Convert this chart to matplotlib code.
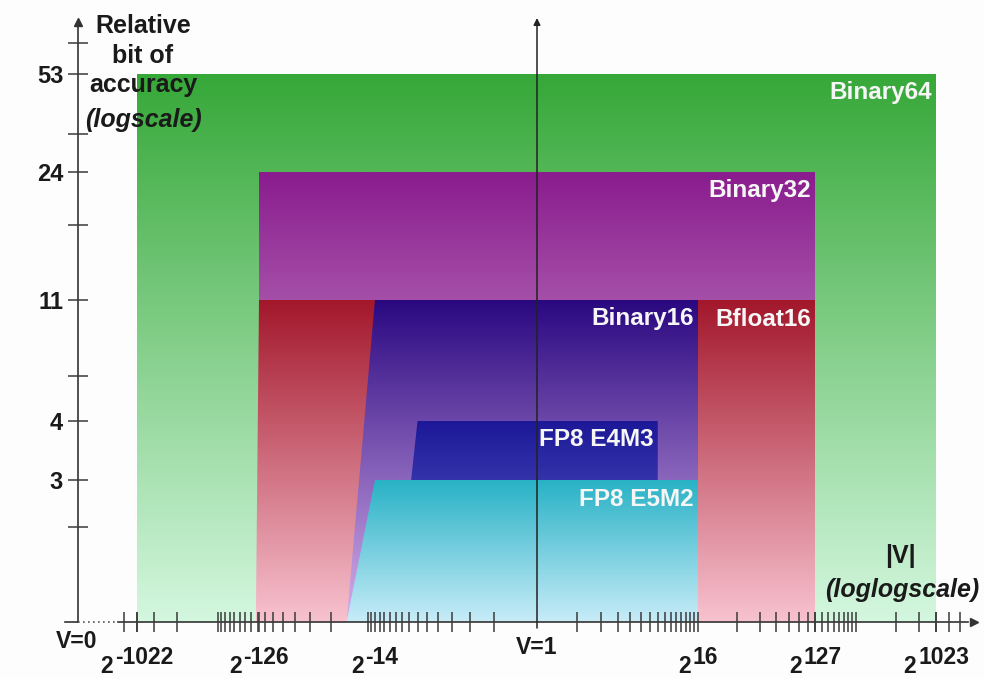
import numpy as np
import matplotlib
matplotlib.use("Agg")
import matplotlib.pyplot as plt
from matplotlib import transforms
from matplotlib.colors import LinearSegmentedColormap
from matplotlib.font_manager import FontProperties
from matplotlib.patches import Polygon
from matplotlib.textpath import TextPath

# --- values ----------------------------------------------------------------
FORMATS = ["Binary64", "Binary32", "Bfloat16", "Binary16", "FP8 E4M3", "FP8 E5M2"]
BITS = [53, 24, 11, 11, 4, 3]
# exponent (power of two) of the left edge at the top (normal) and at the
# bottom (subnormal end of the slope), and of the right edge
EXP_LEFT_TOP = [-1022, -126, -126, -14, -7, -14]
EXP_LEFT_BOTTOM = [-1022, -126, -133, -24, -10, -24]
EXP_RIGHT = [1023, 127, 127, 16, 8, 16]
TOP_COLORS = ["#36a838", "#8a1c8e", "#a3172b", "#2a0880", "#1c1898", "#28b2c6"]
BOTTOM_COLORS = ["#d4f7df", "#e8d0ea", "#f8c2cf", "#d8b0ec", "#6c74d4", "#c8ecf8"]

BIT_TICKS = [2, 3, 4, 8, 11, 16, 24, 32, 53, 64]
BIT_LABELS = ["", "3", "4", "", "11", "", "24", "", "53", ""]
BIT_TICK_COLORS = ["#333333", "#8ee8e0", "#4848a0", "#333333", "#e88a98",
                   "#333333", "#888888", "#333333", "#a8dcb4", "#333333"]

EXP_TICKS = [-1022, -126, -14, 16, 127, 1023]
EXP_TEXT = ["-1022", "-126", "-14", "16", "127", "1023"]
EXP_TICK_COLORS = ["#2e9e3e", "#6a4aa8", "#333333", "#333333", "#6a4aa8", "#333333"]
EXP_MINOR_POS = list(range(2, 17)) + list(range(32, 257, 16)) + [512, 768, 1024, 1280, 1536]
EXP_MINOR_NEG = [-e for e in EXP_MINOR_POS if e <= 1280]

Y_TITLE = ["Relative", "bit of", "accuracy", "(logscale)"]

# --- schematic scales: where labelled values sit on the 984 x 679 canvas ---
W, H, DPI = 984, 679, 100
X_ANCHOR_EXP = np.array([-1022, -126, -14, 0, 16, 127, 1023], float)
X_ANCHOR_PX = np.array([137, 259, 375, 537, 698, 815, 936], float)
Y_ANCHOR_BITS = np.array([1, 2, 3, 4, 8, 11, 16, 24, 32, 53, 64], float)
Y_ANCHOR_PX = np.array([622, 527, 480, 421, 376, 300, 225, 172, 134, 74, 43], float)


def _lin(x, xp, fp):
    x = np.asarray(x, float)
    y = np.interp(x, xp, fp)
    lo = fp[0] + (x - xp[0]) * (fp[1] - fp[0]) / (xp[1] - xp[0])
    hi = fp[-1] + (x - xp[-1]) * (fp[-1] - fp[-2]) / (xp[-1] - xp[-2])
    return np.where(x < xp[0], lo, np.where(x > xp[-1], hi, y))


def _slog(e):
    e = np.asarray(e, float)
    return np.sign(e) * np.log2(np.maximum(np.abs(e), 1.0))


X_LOG = _slog(X_ANCHOR_EXP)
Y_LOG = np.log2(Y_ANCHOR_BITS)
Y_H = H - Y_ANCHOR_PX


def x_fwd(e):
    return _lin(_slog(e), X_LOG, X_ANCHOR_PX)


def x_inv(p):
    l = _lin(p, X_ANCHOR_PX, X_LOG)
    return np.sign(l) * 2.0 ** np.abs(l)


def y_fwd(b):
    return _lin(np.log2(np.maximum(np.asarray(b, float), 1e-9)), Y_LOG, Y_H)


def y_inv(h):
    return 2.0 ** _lin(h, Y_H, Y_LOG)


plt.rcParams["font.family"] = ["Liberation Sans", "DejaVu Sans"]
plt.rcParams["font.weight"] = "bold"

fig = plt.figure(figsize=(W / DPI, H / DPI), dpi=DPI)
fig.patch.set_facecolor("#fdfdfd")
ax = fig.add_axes([0, 0, 1, 1])
ax.set_facecolor("#fdfdfd")
ax.set_xscale("function", functions=(x_fwd, x_inv))
ax.set_yscale("function", functions=(y_fwd, y_inv))
ax.set_xlim(float(x_inv(0)), float(x_inv(W)))
ax.set_ylim(float(y_inv(0)), float(y_inv(H)))
ax.set_autoscale_on(False)

# --- gradient filled format areas --------------------------------------------
to_axes = ax.transData + ax.transAxes.inverted()
for i, name in enumerate(FORMATS):
    verts = np.array([
        [EXP_LEFT_BOTTOM[i], 1],
        [EXP_LEFT_TOP[i], BITS[i]],
        [EXP_RIGHT[i], BITS[i]],
        [EXP_RIGHT[i], 1],
    ], float)
    poly = Polygon(verts, closed=True, transform=ax.transData)
    pts = to_axes.transform(verts)
    (x0, y0), (x1, y1) = pts.min(axis=0), pts.max(axis=0)
    cmap = LinearSegmentedColormap.from_list(name, [BOTTOM_COLORS[i], TOP_COLORS[i]])
    grad = np.linspace(1, 0, 256)[:, None]
    im = ax.imshow(grad, cmap=cmap, vmin=0, vmax=1, extent=(x0, x1, y0, y1),
                   transform=ax.transAxes, aspect="auto",
                   interpolation="bilinear", zorder=0.2 + 0.1 * i)
    im.set_clip_path(poly)
    ax.annotate(name, xy=(EXP_RIGHT[i], BITS[i]), xytext=(-4, -19),
                textcoords="offset pixels", ha="right", va="center",
                fontsize=17.5, color="#f6f6f6", zorder=2)

# --- axes ----------------------------------------------------------------------
for side in ("top", "right"):
    ax.spines[side].set_visible(False)
ax.spines["left"].set_position(("axes", 78 / W))
ax.spines["bottom"].set_position(("data", 1))
ax.spines["left"].set_bounds(1, float(y_inv(H - 26)))
ax.spines["bottom"].set_bounds(float(x_inv(118)), float(x_inv(968)))
for side in ("left", "bottom"):
    ax.spines[side].set_color("#333333")
    ax.spines[side].set_linewidth(1.2)
ax.set_axisbelow(False)

ax.set_yticks(BIT_TICKS)
ax.set_yticklabels(BIT_LABELS)
ax.yaxis.set_minor_locator(plt.NullLocator())
ax.set_xticks(EXP_TICKS)
ax.set_xticklabels([""] * len(EXP_TICKS))
ax.set_xticks(EXP_MINOR_NEG + EXP_MINOR_POS, minor=True)
ax.xaxis.set_minor_formatter(plt.NullFormatter())
ax.tick_params(which="both", direction="inout", length=14.4, width=1.1,
               color="#3a3a3a")
ax.tick_params(axis="y", labelsize=17, pad=3.5, labelcolor="#1a1a1a")
for tick, c in zip(ax.yaxis.get_major_ticks(), BIT_TICK_COLORS):
    tick.tick1line.set_color(c)
for tick, c in zip(ax.xaxis.get_major_ticks(), EXP_TICK_COLORS):
    tick.tick1line.set_color(c)

# axis break between V=0 and the first exponent, arrow heads
blend = transforms.blended_transform_factory(ax.transAxes, ax.transData)
ax.plot([65 / W, 78 / W], [1, 1], color="#333333", lw=1.2, transform=blend,
        clip_on=False, zorder=3)
ax.plot([78 / W, 118 / W], [1, 1], color="#555555", lw=1.2, ls=(0, (1, 2)),
        transform=blend, clip_on=False, zorder=3)
ax.plot([974 / W], [1], marker=">", ms=6, color="#333333", transform=blend,
        clip_on=False, zorder=3)
ax.plot([78 / W], [1 - 22 / H], marker="^", ms=6, color="#333333",
        transform=ax.transAxes, clip_on=False, zorder=3)

# V = 1 vertical axis
ax.annotate("", xy=(0, 1 - 18 / H), xycoords=("data", "axes fraction"),
            xytext=(0, 1 - 628 / H), textcoords=("data", "axes fraction"),
            arrowprops=dict(arrowstyle="-|>", color="#222222", lw=1.1,
                            mutation_scale=10, shrinkA=0, shrinkB=0),
            zorder=3)

# --- x labels ------------------------------------------------------------------
LBL = 16.5
prop = FontProperties(family="Liberation Sans", weight="bold")


def width_px(s):
    return TextPath((0, 0), s, size=LBL, prop=prop).get_extents().width * DPI / 72


for e, s in zip(EXP_TICKS, EXP_TEXT):
    w2, we = width_px("2"), width_px(s)
    shift = (w2 - we) / 2
    ax.annotate("2", xy=(e, 1), xytext=(shift - 1, -51), textcoords="offset pixels",
                ha="right", va="baseline", fontsize=LBL, color="#1a1a1a")
    ax.annotate(s, xy=(e, 1), xytext=(shift + 1, -42), textcoords="offset pixels",
                ha="left", va="baseline", fontsize=LBL, color="#1a1a1a")

ax.annotate("V=0", xy=(78 / W, 1), xycoords=("axes fraction", "data"),
            xytext=(-1, -19), textcoords="offset pixels", ha="center",
            va="center", fontsize=16.5, color="#1a1a1a")
ax.annotate("V=1", xy=(0, 1), xytext=(0, -25), textcoords="offset pixels",
            ha="center", va="center", fontsize=16.5, color="#1a1a1a")

# --- axis titles ---------------------------------------------------------------
for k, (line, base) in enumerate(zip(Y_TITLE, [33, 63, 92, 127])):
    ax.text(143 / W, 1 - base / H, line, transform=ax.transAxes,
            ha="center", va="baseline", fontsize=18, color="#1a1a1a",
            style="italic" if k == 3 else "normal")
ax.text(900 / W, 1 - 556 / H, "|V|", transform=ax.transAxes,
        ha="center", va="center", fontsize=18, color="#1a1a1a")
ax.text(902 / W, 1 - 590 / H, "(loglogscale)", transform=ax.transAxes,
        ha="center", va="center", fontsize=18, style="italic", color="#1a1a1a")

fig.savefig("out.png", dpi=DPI, facecolor=fig.get_facecolor())
